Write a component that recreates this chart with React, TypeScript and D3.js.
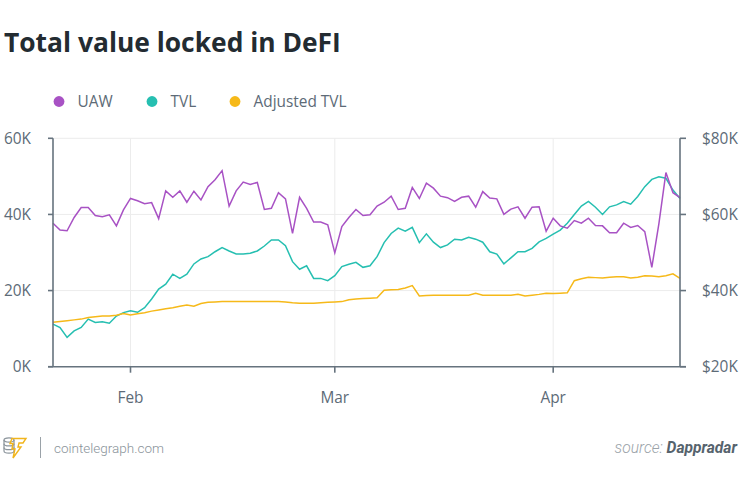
import React from "react";
import * as d3 from "d3";

const START = new Date(2020, 0, 21);
const uaw = [37.7,35.9,35.7,39.2,41.8,41.8,39.7,39.4,39.9,37.0,
41.2,44.2,43.6,42.8,43.1,38.9,46.2,44.5,46.2,43.2,
46.1,43.8,47.3,49.1,51.5,42.2,46.2,48.5,47.9,48.4,
41.3,41.6,45.7,44.1,35.0,44.5,41.6,38.0,38.0,37.3,
29.9,36.8,39.2,41.3,39.7,39.9,42.2,43.2,44.8,41.3,
41.6,47.1,44.2,48.2,46.9,44.8,44.4,43.4,44.5,44.8,
41.9,46.0,44.3,44.1,40.0,41.4,42.0,39.0,41.9,42.0,
35.6,39.0,37.0,36.4,38.4,37.7,39.0,37.1,37.0,35.2,
35.2,37.7,36.6,37.1,35.5,26.1,37.5,51.0,45.7,44.4];
const tvl = [31.2,30.3,27.7,29.4,30.3,32.5,31.6,31.8,31.4,33.3,
34.2,34.7,34.3,35.5,37.8,40.4,41.7,44.3,43.2,44.3,
47.0,48.3,48.9,50.2,51.3,50.4,49.6,49.6,49.8,50.4,
51.7,53.3,53.3,51.8,47.6,45.6,46.5,43.2,43.2,42.6,
43.9,46.3,46.9,47.4,46.1,46.5,48.9,52.6,55.0,56.4,
55.6,56.6,52.6,54.9,52.7,51.3,52.0,53.5,53.3,54.0,
53.5,52.7,50.2,49.6,47.0,48.6,50.2,50.2,51.1,52.8,
53.7,54.8,55.9,57.7,60.0,62.2,63.4,61.9,60.0,62.0,
62.5,63.4,62.7,64.7,67.3,69.2,69.9,69.5,66.4,64.2];
const adjTvl = [31.7,31.9,32.1,32.3,32.5,32.9,33.1,33.3,33.3,33.5,
34.0,33.6,33.9,34.2,34.6,34.9,35.2,35.5,35.9,36.2,
35.9,36.6,36.9,37.0,37.1,37.1,37.1,37.1,37.1,37.1,
37.1,37.1,37.1,37.0,36.8,36.7,36.7,36.7,36.8,36.9,
37.0,37.1,37.6,37.8,37.9,38.0,38.1,40.1,40.2,40.3,
40.7,41.3,38.6,38.7,38.8,38.8,38.8,38.8,38.8,38.8,
39.3,38.8,38.8,38.8,38.8,38.8,39.0,38.6,38.8,39.0,
39.3,39.2,39.3,39.4,42.6,43.1,43.5,43.4,43.3,43.5,
43.6,43.6,43.3,43.5,43.9,43.8,43.6,43.9,44.4,43.2];
const leftTicks = [0, 20, 40, 60];
const rightTicks = [20, 40, 60, 80];
const seriesNames = ["UAW", "TVL", "Adjusted TVL"];
const seriesColors = ["#a852c4", "#26bfb1", "#f6b919"];

const dates = uaw.map((_, i) => d3.timeDay.offset(START, i));

export default function App() {
  const W = 740, H = 492;
  const x0 = 53, x1 = 680, yTop = 138.3, yBot = 366.7;
  const x = d3.scaleTime().domain([dates[0], dates[dates.length - 1]]).range([x0, x1]);
  const yL = d3.scaleLinear().domain([0, 60]).range([yBot, yTop]);
  const yR = d3.scaleLinear().domain([20, 80]).range([yBot, yTop]);
  const monthTicks = x.ticks(d3.timeMonth.every(1));
  const fmtMonth = d3.timeFormat("%b");
  const lineL = d3.line<number>().x((_, i) => x(dates[i])).y((d) => yL(d));
  const lineR = d3.line<number>().x((_, i) => x(dates[i])).y((d) => yR(d));
  const axisColor = "#66737e";
  const labelColor = "#5d6b77";
  const font = "'Open Sans', sans-serif";
  const legendX = [59, 152, 235];

  return (
    <svg width={W} height={H} style={{ position: "absolute", left: 0, top: 0, background: "#fff" }} fontFamily={font}>
      <text x={4} y={52} fontSize={26.4} fontWeight={700} fill="#232b31">Total value locked in DeFI</text>
      {seriesNames.map((n, i) => (
        <g key={n}>
          <circle cx={legendX[i]} cy={101.5} r={5.4} fill={seriesColors[i]} />
          <text x={legendX[i] + 18.5} y={107} fontSize={15.4} fill={labelColor}>{n}</text>
        </g>
      ))}
      {leftTicks.slice(1).map((t) => (
        <line key={"gh" + t} x1={x0} x2={x1} y1={yL(t)} y2={yL(t)} stroke="#ececec" strokeWidth={1} />
      ))}
      {monthTicks.map((m) => (
        <line key={"gv" + +m} x1={x(m)} x2={x(m)} y1={yTop} y2={yBot} stroke="#ececec" strokeWidth={1} />
      ))}
      <path d={lineR(tvl) || ""} fill="none" stroke={seriesColors[1]} strokeWidth={1.5} />
      <path d={lineR(adjTvl) || ""} fill="none" stroke={seriesColors[2]} strokeWidth={1.5} />
      <path d={lineL(uaw) || ""} fill="none" stroke={seriesColors[0]} strokeWidth={1.5} />
      <line x1={x0} x2={x0} y1={yTop} y2={yBot} stroke={axisColor} strokeWidth={1.6} />
      <line x1={x1} x2={x1} y1={yTop} y2={yBot} stroke={axisColor} strokeWidth={1.6} />
      <line x1={x0 - 5} x2={x1 + 6} y1={yBot} y2={yBot} stroke={axisColor} strokeWidth={1.6} />
      {leftTicks.map((t) => (
        <g key={"l" + t}>
          <line x1={x0 - 5} x2={x0} y1={yL(t)} y2={yL(t)} stroke={axisColor} strokeWidth={1.6} />
          <text x={31} y={yL(t) + 5.5} textAnchor="end" fontSize={15.4} fill={labelColor}>{t + "K"}</text>
        </g>
      ))}
      {rightTicks.map((t) => (
        <g key={"r" + t}>
          <line x1={x1} x2={x1 + 6} y1={yR(t)} y2={yR(t)} stroke={axisColor} strokeWidth={1.6} />
          <text x={702} y={yR(t) + 5.5} textAnchor="start" fontSize={15.4} fill={labelColor}>{"$" + t + "K"}</text>
        </g>
      ))}
      {monthTicks.map((m) => (
        <g key={"m" + +m}>
          <line x1={x(m)} x2={x(m)} y1={yBot} y2={yBot + 6} stroke={axisColor} strokeWidth={1.6} />
          <text x={x(m)} y={402.5} textAnchor="middle" fontSize={15.4} fill={labelColor}>{fmtMonth(m)}</text>
        </g>
      ))}
      <g transform="translate(3,437)" fill="none" stroke="#8c959c" strokeWidth={1.2}>
        <ellipse cx={6} cy={3} rx={5} ry={2.2} />
        <path d="M1,3 v11 a5,2.2 0 0 0 10,0 v-11" />
        <path d="M1,6.7 a5,2.2 0 0 0 10,0 M1,10.4 a5,2.2 0 0 0 10,0" />
        <path d="M9,1.5 h14 l-3,4.5 h-4 l-1,4 h3 l-8,11 l2,-9 h-3 l1,-5.5 h-3 z" fill="none" stroke="#f1b51c" strokeWidth={1.4} />
      </g>
      <line x1={40.5} x2={40.5} y1={437} y2={458} stroke="#9aa2a8" strokeWidth={1} />
      <text x={54} y={452.5} fontSize={13.5} fontFamily="Roboto, sans-serif" fontWeight={300} fill="#8a939a">cointelegraph.com</text>
      <text x={737} y={452.5} textAnchor="end" fontSize={15.6} fontFamily="Roboto, sans-serif" fontStyle="italic">
        <tspan fill="#9ba3a9" fontWeight={300}>source: </tspan>
        <tspan fill="#56636d" fontWeight={700}>Dappradar</tspan>
      </text>
    </svg>
  );
}
